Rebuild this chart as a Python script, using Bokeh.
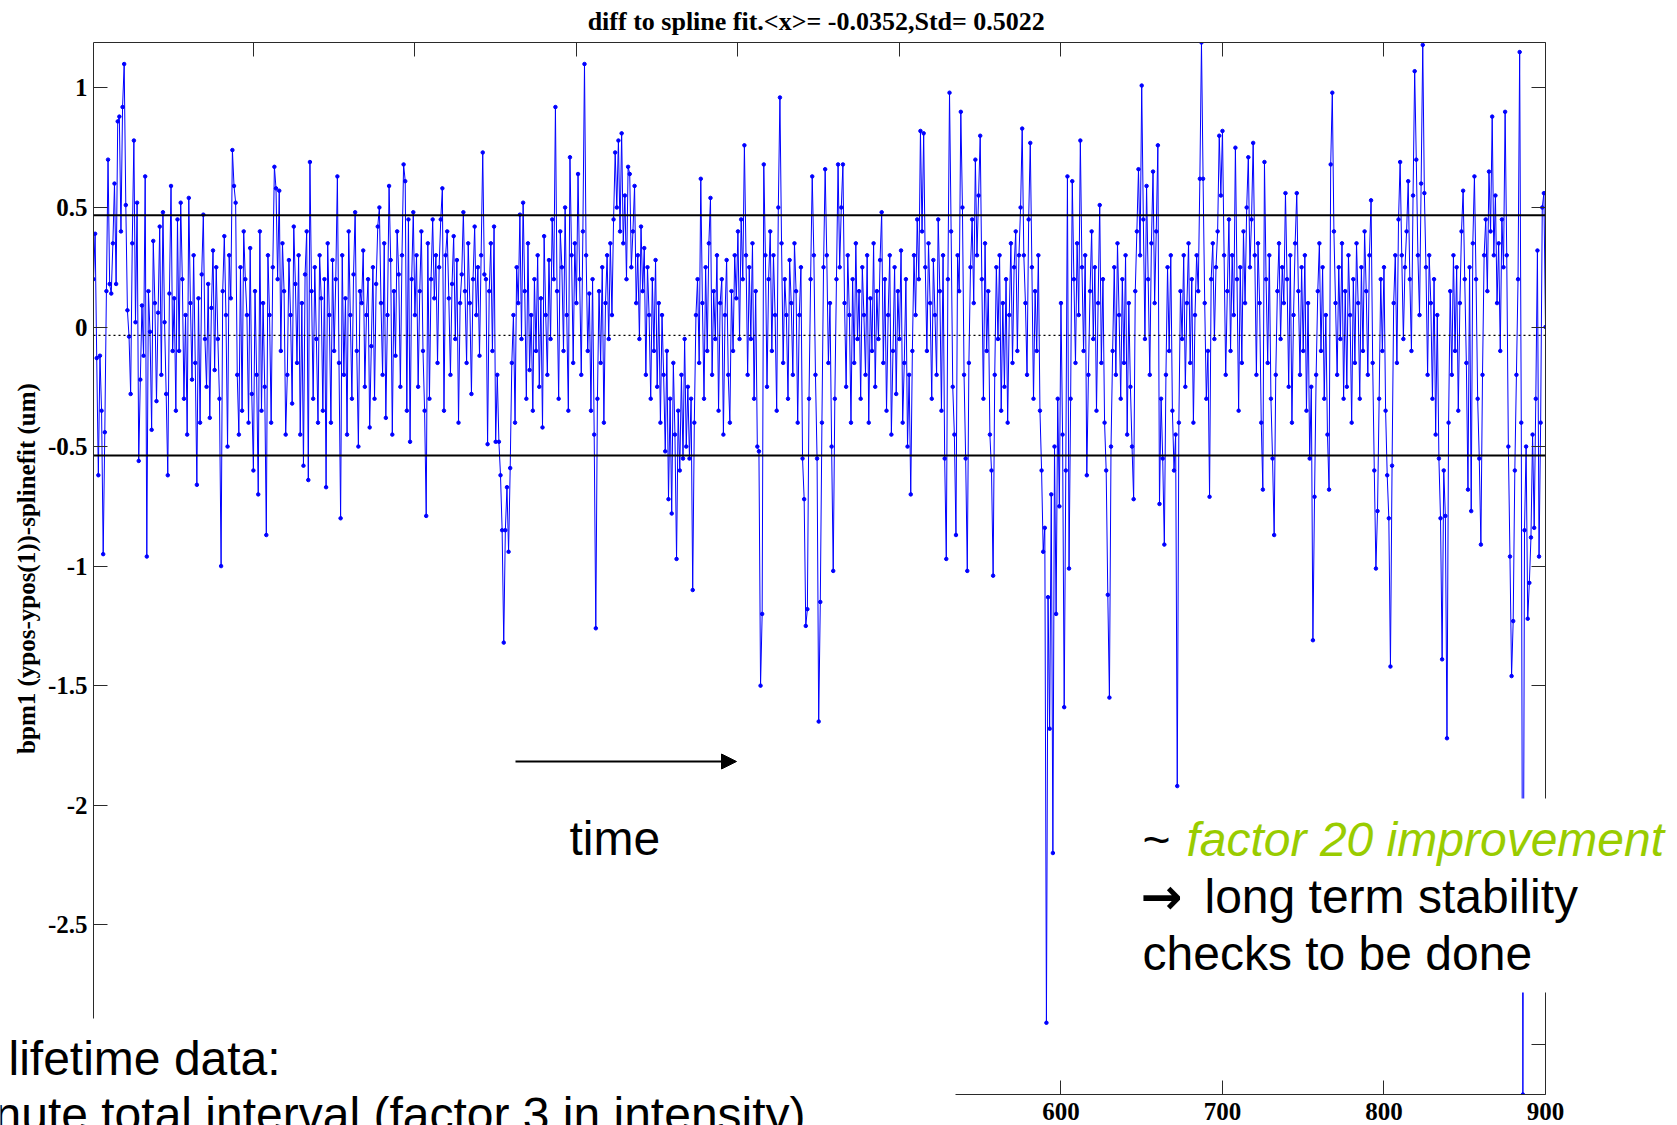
from bokeh.plotting import figure
from bokeh.layouts import column
from bokeh.models import (Range1d, LinearAxis, FixedTicker, CustomJSTickFormatter, Span,
                          BoxAnnotation, Label, Arrow, NormalHead, ColumnDataSource)
from bokeh.embed import file_html
from bokeh.resources import INLINE

# ---------------- data ----------------
DIFF = [
    0.20, 0.39, -0.13, -0.62, -0.12, -0.35, -0.95, -0.44, 0.15, 0.70, 0.18, 0.14, 0.35, 0.60, 0.18, 0.86, 0.88, 0.40, 0.92, 1.10, 0.51, 0.07, -0.04, -0.28, 0.35,
    0.78, 0.02, 0.52, -0.56, -0.22, 0.09, -0.12, 0.63, -0.96, 0.15, -0.02, -0.43, 0.36, 0.10, -0.31, 0.06, 0.42, -0.20, 0.48, 0.02, -0.28, -0.62, 0.14, 0.59, -0.10,
    0.12, -0.35, 0.45, -0.10, 0.52, 0.20, -0.30, 0.05, -0.45, 0.54, 0.10, -0.22, 0.30, -0.15, -0.66, 0.12, -0.40, 0.22, 0.47, -0.05, -0.25, 0.18, -0.38, 0.08, 0.32,
    -0.18, 0.25, -0.05, -0.30, -1.00, 0.15, 0.38, 0.05, -0.50, 0.30, 0.12, 0.74, 0.59, 0.52, -0.20, -0.45, 0.25, -0.35, 0.40, 0.20, 0.05, -0.40, 0.33, -0.28, -0.60,
    0.15, -0.20, -0.70, 0.40, -0.35, 0.10, -0.25, -0.87, 0.30, 0.05, -0.40, 0.25, 0.67, 0.58, 0.20, 0.57, -0.10, 0.35, 0.15, -0.45, -0.20, 0.28, 0.05, -0.32, 0.42,
    0.18, -0.15, 0.30, -0.45, 0.10, -0.58, 0.22, 0.40, -0.64, 0.69, 0.15, -0.30, 0.25, -0.05, -0.40, 0.30, 0.12, -0.35, 0.20, -0.67, 0.35, 0.05, -0.40, 0.28, -0.10,
    0.20, 0.63, -0.15, -0.80, 0.30, -0.20, 0.12, -0.45, 0.40, 0.05, -0.30, 0.22, 0.48, -0.10, -0.50, 0.15, 0.10, 0.32, -0.25, 0.05, 0.20, -0.42, -0.08, 0.25, -0.30,
    0.18, 0.42, 0.50, 0.10, -0.20, 0.35, -0.38, 0.05, 0.59, 0.28, -0.45, 0.15, -0.12, 0.40, 0.22, -0.25, 0.30, 0.68, 0.61, -0.35, 0.45, -0.48, 0.20, 0.48, 0.05,
    0.30, -0.25, 0.15, 0.40, -0.10, -0.35, -0.79, 0.35, -0.30, 0.20, 0.45, 0.12, 0.30, -0.15, 0.25, 0.45, 0.58, -0.35, 0.30, 0.40, 0.12, -0.20, 0.18, 0.38, -0.05,
    0.28, -0.40, 0.10, 0.22, 0.48, 0.15, -0.15, 0.35, 0.10, -0.28, 0.20, 0.42, 0.05, 0.25, -0.12, 0.30, 0.73, 0.22, 0.20, -0.49, 0.15, 0.35, -0.10, 0.42, -0.48,
    -0.20, -0.48, -0.62, -0.85, -1.32, -0.85, -0.67, -0.94, -0.59, -0.15, 0.05, -0.40, 0.25, 0.10, 0.47, -0.05, 0.52, 0.15, -0.30, 0.35, -0.18, 0.05, -0.35, 0.20, -0.10,
    0.30, -0.25, 0.12, -0.42, 0.38, 0.05, -0.20, 0.28, -0.05, 0.45, 0.20, 0.92, 0.15, -0.30, 0.40, 0.25, -0.10, 0.50, 0.05, -0.35, 0.71, 0.30, -0.15, 0.35, 0.10,
    0.64, 0.20, -0.20, 0.40, 1.10, 0.30, -0.10, 0.14, -0.35, 0.20, -0.45, -1.26, -0.30, 0.15, -0.15, 0.25, -0.40, 0.10, 0.30, -0.05, 0.35, 0.05, 0.45, 0.73, 0.50,
    0.78, 0.40, 0.81, 0.35, 0.55, 0.20, 0.67, 0.64, 0.25, 0.40, 0.59, 0.10, 0.30, -0.05, 0.42, 0.15, 0.33, -0.20, 0.25, 0.05, -0.30, 0.20, -0.10, 0.28, -0.25,
    0.10, -0.40, 0.05, -0.20, -0.52, -0.10, -0.72, -0.30, -0.78, -0.15, -0.45, -0.97, -0.35, -0.60, -0.20, -0.55, -0.05, -0.50, -0.25, -0.55, -0.30, -1.10, -0.40, 0.05, 0.20,
    -0.15, 0.62, 0.10, -0.30, 0.25, -0.10, 0.35, 0.54, -0.20, 0.15, -0.05, 0.30, -0.35, 0.10, 0.20, -0.45, 0.05, 0.28, -0.20, -0.40, 0.15, -0.10, 0.30, 0.12, 0.40,
    -0.05, 0.45, 0.20, 0.76, 0.30, -0.20, 0.25, -0.05, 0.35, -0.30, 0.15, -0.50, -0.52, -1.50, -1.20, 0.68, 0.30, -0.25, 0.20, 0.40, -0.10, 0.30, 0.05, -0.35, 0.50,
    0.96, 0.35, -0.15, 0.20, 0.05, -0.30, 0.28, 0.10, -0.20, 0.35, 0.15, -0.40, 0.05, 0.25, -0.55, -0.72, -1.25, -1.18, -0.30, 0.20, 0.63, 0.30, -0.20, -0.55, -1.65,
    -1.15, -0.40, 0.25, 0.66, 0.30, -0.15, 0.10, -0.50, -1.02, -0.30, 0.20, 0.68, 0.25, 0.50, 0.68, 0.10, -0.25, 0.30, 0.05, -0.40, 0.20, -0.15, 0.35, -0.05, 0.15,
    -0.30, 0.25, 0.05, -0.20, 0.30, -0.40, 0.12, -0.10, 0.35, -0.25, 0.15, -0.05, 0.28, 0.48, -0.15, 0.20, -0.35, 0.05, 0.30, -0.45, -0.10, 0.25, -0.28, 0.15, -0.05,
    0.32, -0.40, -0.15, 0.20, -0.50, -0.20, -0.70, -0.10, 0.30, 0.05, 0.45, 0.20, 0.82, 0.40, 0.81, 0.25, -0.10, 0.35, 0.10, -0.30, 0.28, 0.05, -0.20, 0.45, 0.15,
    -0.35, 0.30, -0.55, -0.97, 0.20, 0.98, 0.40, -0.25, -0.45, -0.87, 0.30, 0.15, 0.90, 0.50, -0.20, -0.55, -1.02, -0.15, 0.25, 0.45, 0.10, 0.70, 0.30, 0.55, 0.80,
    0.20, -0.30, 0.35, -0.10, 0.15, -0.45, -0.60, -1.04, -0.20, 0.25, -0.05, 0.30, -0.35, 0.10, -0.25, 0.20, -0.40, 0.05, 0.35, -0.15, 0.25, 0.40, -0.10, 0.30, 0.50,
    0.83, 0.30, 0.10, -0.20, 0.45, 0.77, 0.25, -0.30, 0.15, -0.10, 0.30, -0.35, -0.60, -0.94, -0.84, -2.91, -1.13, -1.68, -0.70, -2.20, -0.50, -1.20, -0.30, -0.75, 0.10,
    -0.45, -1.59, -0.60, 0.63, -1.01, -0.30, 0.61, 0.20, -0.15, 0.35, 0.05, 0.78, 0.25, -0.10, 0.30, -0.62, -0.20, 0.15, 0.40, -0.05, 0.25, -0.35, 0.10, 0.51, -0.15,
    0.20, -0.40, -0.60, -1.12, -1.55, -0.50, -0.10, 0.25, -0.20, 0.35, 0.05, -0.30, 0.20, -0.15, 0.30, -0.45, 0.10, -0.25, -0.50, -0.72, 0.15, 0.40, 0.66, 0.30, 1.01,
    0.45, -0.05, 0.59, 0.20, -0.20, 0.35, 0.65, 0.10, 0.40, 0.76, -0.74, -0.30, -0.55, -0.91, -0.20, 0.25, -0.10, 0.30, -0.35, -0.60, -0.45, -1.92, -0.40, 0.15, -0.05,
    0.30, -0.25, 0.10, 0.35, -0.15, 0.20, -0.40, 0.05, 0.30, 0.15, 0.62, 1.19, 0.62, 0.10, -0.30, -0.10, -0.71, 0.20, 0.35, -0.05, 0.25, 0.40, 0.80, 0.55, 0.82,
    0.30, -0.20, 0.15, 0.45, -0.10, 0.30, 0.05, 0.75, 0.20, -0.35, 0.25, -0.15, 0.40, 0.10, 0.50, 0.71, 0.25, 0.45, 0.77, 0.30, -0.20, 0.35, 0.10, -0.40, -0.68,
    0.69, 0.20, -0.15, 0.30, -0.30, -0.55, -0.87, -0.20, 0.15, 0.35, -0.05, 0.25, 0.10, 0.56, 0.20, -0.25, 0.30, -0.40, 0.05, 0.35, 0.56, 0.15, -0.20, 0.25, -0.10,
    0.30, -0.35, 0.10, -0.55, -0.25, -1.31, -0.71, -0.20, 0.15, 0.35, -0.10, 0.25, -0.30, 0.05, -0.45, -0.68, 0.68, 0.98, 0.40, 0.10, -0.20, 0.25, -0.05, 0.35, -0.30,
    0.15, -0.25, 0.30, 0.05, -0.40, 0.20, -0.15, 0.35, 0.10, -0.30, 0.25, -0.10, 0.40, 0.15, -0.20, 0.30, 0.53, -0.15, -0.60, -1.01, -0.77, -0.30, 0.20, -0.10, 0.25,
    -0.35, -0.62, -0.80, -1.42, -0.58, 0.10, 0.30, -0.15, 0.45, 0.69, 0.30, -0.05, 0.25, 0.40, 0.61, 0.20, -0.10, 0.55, 1.07, 0.70, 0.30, 0.05, 0.60, 1.18, 0.56,
    0.25, -0.20, 0.30, 0.10, -0.30, 0.20, -0.45, 0.05, -0.55, -0.80, -1.39, -0.60, -0.79, -1.72, -0.40, 0.15, -0.20, 0.30, -0.10, 0.25, -0.35, 0.10, 0.40, 0.57, 0.20,
    -0.15, -0.68, 0.25, -0.77, 0.35, 0.63, 0.20, -0.30, -0.55, -0.91, -0.20, 0.30, 0.45, 0.15, 0.65, 0.40, 0.88, 0.30, 0.55, 0.10, 0.35, -0.10, 0.45, 0.25, 0.90,
    0.30, -0.50, -0.96, -1.46, -1.23, -0.60, -0.20, 0.20, 1.15, -0.40, -3.21, -0.85, -0.50, -1.22, -1.07, -0.88, -0.45, -0.84, -0.30, 0.32, -0.96, -0.40, 0.50, 0.56, 0.00,
]
SAMPLE = list(range(1, len(DIFF) + 1))

MEAN = -0.0352
STD = 0.5022
X_TICKS = [100, 200, 300, 400, 500, 600, 700, 800, 900]
Y_TICKS = [-3, -2.5, -2, -1.5, -1, -0.5, 0, 0.5, 1]
TITLE = "diff to spline fit.<x>= -0.0352,Std=  0.5022"
Y_LABEL = "bpm1 (ypos-ypos(1))-splinefit (um)"

NOTE_TIME = "time"
NOTE_TILDE = "~"
NOTE_GREEN = "factor 20 improvement"
NOTE_ARROW = "\u2192"
NOTE_LINE2 = "long term stability"
NOTE_LINE3 = "checks to be done"
NOTE_LIFE1 = "lifetime data:"
NOTE_LIFE2 = "nute total interval (factor 3 in intensity)"

# ---------------- layout (pixels) ----------------
W, H = 1677, 1125
FL, FR, FT, FB = 93, 1545, 42, 1094
X_LIM = (1, len(DIFF))
Y_LIM = (min(DIFF), max(DIFF))   # matlab "axis tight"
FRAME = "#2a2a2a"
BLUE = "#0000ff"
GREEN = "#99cc00"

# ================= the matlab figure =================
p = figure(width=W, height=H, x_range=Range1d(*X_LIM), y_range=Range1d(*Y_LIM),
           output_backend="svg", toolbar_location=None,
           min_border_left=FL, min_border_right=W - FR, min_border_top=FT, min_border_bottom=H - FB,
           background_fill_color="white", border_fill_color="white", outline_line_color=None)
p.frame_align = False
p.xgrid.grid_line_color = None
p.ygrid.grid_line_color = None

fmt = CustomJSTickFormatter(code="return tick.toString();")
blank_fmt = CustomJSTickFormatter(code="return '';")


def style_axis(ax, ticks, labels):
    ax.ticker = FixedTicker(ticks=ticks)
    ax.axis_line_color = FRAME
    ax.axis_line_width = 1
    ax.major_tick_line_color = FRAME
    ax.major_tick_in = 14
    ax.major_tick_out = 0
    ax.minor_tick_line_color = None
    if labels:
        ax.formatter = fmt
        ax.major_label_text_font = "Liberation Serif"
        ax.major_label_text_font_style = "bold"
        ax.major_label_text_font_size = "25px"
        ax.major_label_text_color = "black"
    else:
        ax.formatter = blank_fmt
        ax.major_label_text_font_size = "1px"
        ax.major_label_standoff = 0


style_axis(p.xaxis[0], X_TICKS, True)
p.xaxis[0].major_label_standoff = 8
style_axis(p.yaxis[0], Y_TICKS, True)
p.yaxis[0].major_label_standoff = 6
p.yaxis[0].axis_label = Y_LABEL
p.yaxis[0].axis_label_text_font = "Liberation Serif"
p.yaxis[0].axis_label_text_font_style = "bold"
p.yaxis[0].axis_label_text_font_size = "25px"
p.yaxis[0].axis_label_text_color = "black"
p.yaxis[0].axis_label_standoff = 5

top_ax = LinearAxis()
style_axis(top_ax, X_TICKS, False)
p.add_layout(top_ax, "above")
right_ax = LinearAxis()
style_axis(right_ax, Y_TICKS, False)
p.add_layout(right_ax, "right")

p.title.text = TITLE
p.title.align = "center"
p.title.vertical_align = "top"
p.title.text_font = "Liberation Serif"
p.title.text_font_style = "bold"
p.title.text_font_size = "26px"
p.title.text_color = "black"
p.title.standoff = 10

src = ColumnDataSource(data=dict(sample=SAMPLE, diff=DIFF))
p.line(x="sample", y="diff", source=src, line_color=BLUE, line_width=1)
p.scatter(x="sample", y="diff", source=src, marker="circle", size=3.5,
          fill_color=BLUE, line_color=BLUE)

# mean and +/- std lines
p.add_layout(Span(location=MEAN, dimension="width", line_color="black", line_width=1.2, line_dash="2 3"))
p.add_layout(Span(location=MEAN + STD, dimension="width", line_color="black", line_width=2))
p.add_layout(Span(location=MEAN - STD, dimension="width", line_color="black", line_width=2))

# ================= the slide layer on top (pixel coordinates) =================
ov = figure(width=W, height=H, x_range=Range1d(0, W), y_range=Range1d(H, 0),
            output_backend="svg", toolbar_location=None, x_axis_type=None, y_axis_type=None,
            min_border=0, background_fill_alpha=0, border_fill_alpha=0, outline_line_color=None)
ov.frame_align = False
ov.min_border_left = 0
ov.min_border_right = 0
ov.min_border_top = 0
ov.min_border_bottom = 0
ov.title.visible = False
ov.margin = (-H, 0, 0, 0)

# white text boxes of the slide that hide parts of the figure
ov.add_layout(BoxAnnotation(left=-20, right=955, top=1018, bottom=H + 20,
                            fill_color="white", fill_alpha=1.0, line_color=None))
ov.add_layout(BoxAnnotation(left=1135, right=W + 20, top=798, bottom=992,
                            fill_color="white", fill_alpha=1.0, line_color=None))

ov.add_layout(Arrow(end=NormalHead(size=15, fill_color="black", line_color="black"),
                    x_start=515, y_start=761, x_end=736, y_end=761,
                    line_color="black", line_width=2))

SIZE = 48
MID = 0.345 * SIZE   # baseline -> middle of the text box


def note(text, x, baseline, color="black", style="normal", font="Liberation Sans", size=SIZE):
    ov.add_layout(Label(x=x, y=baseline - MID, text=text, text_font=font,
                        text_font_size=f"{size}px", text_color=color, text_font_style=style,
                        text_align="left", text_baseline="middle"))


note(NOTE_TIME, 569, 855)
note(NOTE_TILDE, 1142, 856)
note(NOTE_GREEN, 1186, 856, color=GREEN, style="italic")
note(NOTE_ARROW, 1140, 913, font="DejaVu Sans", style="bold", size=50)
note(NOTE_LINE2, 1204, 913)
note(NOTE_LINE3, 1142, 970)
note(NOTE_LIFE1, 8, 1075)
note(NOTE_LIFE2, -6, 1131)

open("out.html", "w").write(file_html(column(p, ov), INLINE))
